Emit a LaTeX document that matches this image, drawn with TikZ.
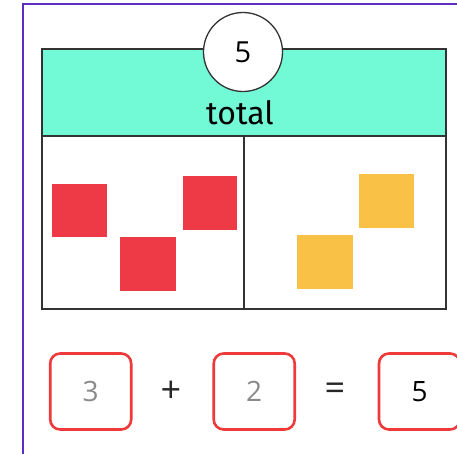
\documentclass[tikz,border=0pt]{standalone}
\usepackage{fontspec}
\setmainfont{Open Sans}
\newfontfamily\hand{Fira Sans}
\definecolor{teal1}{HTML}{72F9D6}
\definecolor{redsq}{HTML}{EE3A46}
\definecolor{yelsq}{HTML}{F9C146}
\definecolor{frame}{HTML}{5B2DBE}
\definecolor{boxred}{HTML}{EE3A3A}
\definecolor{digitgray}{HTML}{8A8A8A}
\tikzset{
  redsquare/.style={fill=redsq, draw=none},
  yelsquare/.style={fill=yelsq, draw=none},
  ansbox/.style={draw=boxred, line width=2.6pt, rounded corners=10pt, minimum width=81pt, minimum height=76pt, inner sep=0pt},
  outline/.style={draw=black!80, line width=1.5pt},
  opsign/.style={font=\fontsize{36}{36}\selectfont, text=black!85},
}
\begin{document}
\begin{tikzpicture}[x=1pt,y=-1pt]
\useasboundingbox (0,0) rectangle (457,453);
\clip (0,0) rectangle (457,453);
\fill[white] (0,0) rectangle (457,453);
% outer frame
\draw[frame, line width=2pt] (23,4) rectangle (470,470);
% teal header
\node[outline, fill=teal1, minimum width=404pt, minimum height=87pt, inner sep=0pt, anchor=north west] (head) at (41,48) {};
\node[font=\hand\fontsize{32}{32}\selectfont, anchor=base] (total) at (240,124) {total};
% lower boxes
\node[outline, fill=white, minimum width=202pt, minimum height=173pt, inner sep=0pt, anchor=north west] (left) at (41,135) {};
\node[outline, fill=white, minimum width=202pt, minimum height=173pt, inner sep=0pt, anchor=north west] (right) at (243,135) {};
% circle
\node[circle, draw=black!80, line width=1.3pt, fill=white, minimum size=79pt, inner sep=0pt, font=\fontsize{29}{29}\selectfont] (top) at (243,52) {5};
% red squares
\fill[redsquare] (52,184) rectangle (107,237);
\fill[redsquare] (120,237) rectangle (176,291);
\fill[redsquare] (183,176) rectangle (237,230);
% yellow squares
\fill[yelsquare] (359,174) rectangle (414,228);
\fill[yelsquare] (297,235) rectangle (353,289);
% equation
\node[ansbox, font=\fontsize{28}{28}\selectfont, text=digitgray] (a) at (90.7,391.5) {3};
\node[opsign] (plus) at (171,392) {+};
\node[ansbox, font=\fontsize{28}{28}\selectfont, text=digitgray] (b) at (254.2,391.5) {2};
\node[opsign] (eq) at (335,392) {=};
\node[ansbox, font=\fontsize{28}{28}\selectfont] (c) at (419.5,391.5) {5};
\end{tikzpicture}
\end{document}
